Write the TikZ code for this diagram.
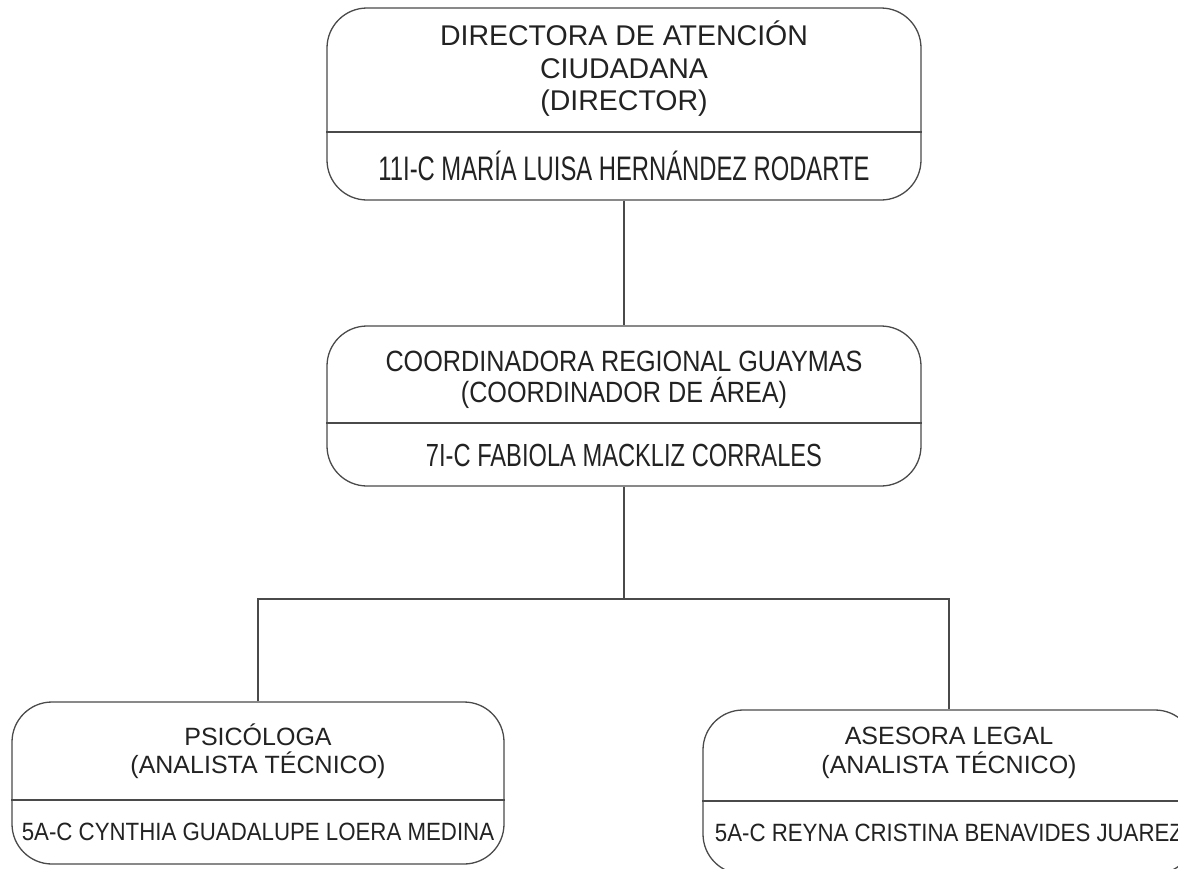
\documentclass[tikz,border=0pt]{standalone}
\usepackage{fontspec}
\setmainfont{Liberation Sans}
\newfontfamily\headfont{Liberation Sans}
\newfontfamily\headnarrow[FakeStretch=0.86]{Liberation Sans}
\newfontfamily\topnarrow[FakeStretch=0.70]{Liberation Sans}
\newfontfamily\namenarrow[FakeStretch=0.74]{Liberation Sans}
\newfontfamily\namewide[FakeStretch=0.89]{Liberation Sans}
\usepackage{tikz}

\definecolor{linegray}{HTML}{4A4A4A}
\definecolor{textgray}{HTML}{222222}

\tikzset{
  cargo/.style={draw=linegray, line width=1.3pt, rounded corners=40pt, inner sep=0pt},
  divider/.style={draw=linegray, line width=1.2pt},
  conn/.style={draw=linegray, line width=1.2pt},
  txt/.style={anchor=base, inner sep=0pt, text=textgray},
  toptitle/.style={txt, font=\headfont\fontsize{28.5}{30}\selectfont},
  topname/.style={txt, font=\topnarrow\fontsize{34}{36}\selectfont},
  midtitle/.style={txt, font=\headnarrow\fontsize{29.3}{31}\selectfont},
  midname/.style={txt, font=\namenarrow\fontsize{32}{34}\selectfont},
  lowtitle/.style={txt, font=\headfont\fontsize{25}{27}\selectfont},
  lowname/.style={txt, font=\namewide\fontsize{25}{27}\selectfont}
}

\begin{document}
\begin{tikzpicture}[x=1pt, y=-1pt]
    \useasboundingbox (0,0) rectangle (1178,868);
    \clip (0,0) rectangle (1178,868);

    % Boxes
    \node[cargo, minimum width=594pt, minimum height=192pt] (dir) at (624,104) {};
    \node[cargo, minimum width=594pt, minimum height=160pt] (coord) at (624,406) {};
    \node[cargo, minimum width=492pt, minimum height=162pt] (psi) at (258,783) {};
    \node[cargo, minimum width=492pt, minimum height=164pt] (leg) at (949,792) {};

    % Dividers
    \coordinate (dirsplit) at (0,132);
    \coordinate (coordsplit) at (0,423);
    \coordinate (psisplit) at (0,800);
    \coordinate (legsplit) at (0,801);
    \draw[divider] (dir.west |- dirsplit) -- (dir.east |- dirsplit);
    \draw[divider] (coord.west |- coordsplit) -- (coord.east |- coordsplit);
    \draw[divider] (psi.west |- psisplit) -- (psi.east |- psisplit);
    \draw[divider] (leg.west |- legsplit) -- (leg.east |- legsplit);

    % Texts
    \node[toptitle] (dirt1) at (624,45) {DIRECTORA DE ATENCIÓN};
    \node[toptitle] (dirt2) at (624,78) {CIUDADANA};
    \node[toptitle] (dirt3) at (624,110) {(DIRECTOR)};
    \node[topname] (dirname) at (624,180) {11I-C MARÍA LUISA HERNÁNDEZ RODARTE};

    \node[midtitle] (coordt1) at (624,371) {COORDINADORA REGIONAL GUAYMAS};
    \node[midtitle] (coordt2) at (624,402) {(COORDINADOR DE ÁREA)};
    \node[midname] (coordname) at (624,466) {7I-C FABIOLA MACKLIZ CORRALES};

    \node[lowtitle] (psit1) at (258,745) {PSICÓLOGA};
    \node[lowtitle] (psit2) at (258,773) {(ANALISTA TÉCNICO)};
    \node[lowname] (psiname) at (258,840) {5A-C CYNTHIA GUADALUPE LOERA MEDINA};

    \node[lowtitle] (legt1) at (949,744) {ASESORA LEGAL};
    \node[lowtitle] (legt2) at (949,773) {(ANALISTA TÉCNICO)};
    \node[lowname] (legname) at (949,841) {5A-C REYNA CRISTINA BENAVIDES JUAREZ};

    % Connectors
    \coordinate (fork) at (624,599);
    \draw[conn] (dir.south) -- (coord.north);
    \draw[conn] (coord.south) -- (fork);
    \draw[conn] (psi.north) |- (fork) -| (leg.north);

\end{tikzpicture}
\end{document}
